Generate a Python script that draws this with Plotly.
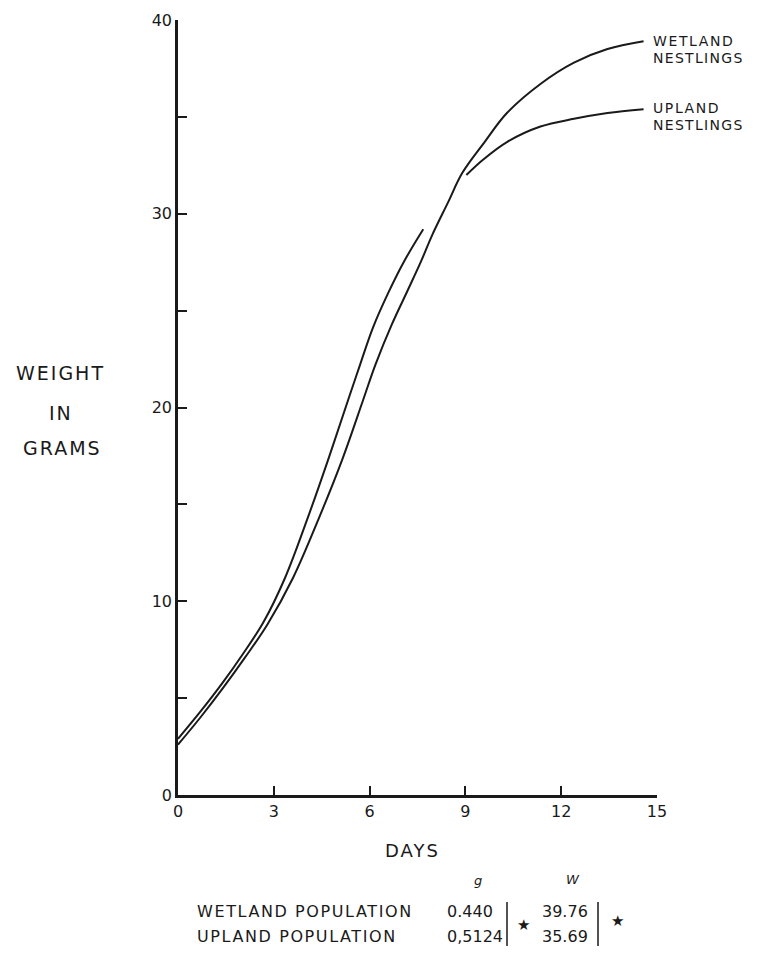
import plotly.graph_objects as go

# ---- data ----
wet_days = [0, 0.7, 1.4, 2.1, 2.8, 3.6, 4.39, 5.14, 5.8, 6.18, 6.7, 7.18, 7.6, 7.96, 8.46, 8.9, 9.6, 10.3, 11.35, 12.4, 13.45, 14.58]
wet_grams = [2.6, 4.0, 5.5, 7.1, 8.8, 11.2, 14.2, 17.3, 20.4, 22.2, 24.3, 26.0, 27.5, 28.9, 30.6, 32.1, 33.7, 35.2, 36.7, 37.8, 38.5, 38.9]

up_days = [0, 0.7, 1.4, 2.0, 2.67, 3.35, 4.04, 4.7, 5.33, 5.7, 6.1, 6.58, 7.1, 7.68, None, 9.03, 9.56, 10.3, 11.35, 12.4, 13.45, 14.58]
up_grams = [2.9, 4.3, 5.8, 7.2, 8.9, 11.2, 14.2, 17.3, 20.4, 22.2, 24.1, 25.9, 27.6, 29.2, None, 32.0, 32.8, 33.7, 34.5, 34.9, 35.2, 35.4]

x_ticks = [0, 3, 6, 9, 12, 15]
x_ticktext = ["0", "3", "6", "9", "12", "15"]
y_ticks = [0, 5, 10, 15, 20, 25, 30, 35, 40]
y_ticktext = ["0", "", "10", "", "20", "", "30", "", "40"]

pop_names = ["WETLAND POPULATION", "UPLAND POPULATION"]
g_values = ["0.440", "0,5124"]
w_values = ["39.76", "35.69"]

FONT = "DejaVu Sans, Liberation Sans, Arial, sans-serif"
INK = "#1a1a1a"


def spaced(txt, ls):
    if ls == 0:
        return txt
    return f'<span style="letter-spacing:{ls}px">{txt}</span>'


fig = go.Figure()
fig.add_trace(go.Scatter(x=wet_days, y=wet_grams, mode="lines", name="Wetland nestlings",
                         line=dict(color=INK, width=2, shape="spline", smoothing=1.0),
                         connectgaps=False, cliponaxis=False))
fig.add_trace(go.Scatter(x=up_days, y=up_grams, mode="lines", name="Upland nestlings",
                         line=dict(color=INK, width=2, shape="spline", smoothing=1.0),
                         connectgaps=False, cliponaxis=False))

fig.update_layout(
    width=760, height=954,
    margin=dict(l=170, r=111, t=12, b=167, autoexpand=False),
    paper_bgcolor="white", plot_bgcolor="white",
    showlegend=False,
    font=dict(family=FONT, color=INK, size=14),
    xaxis=dict(range=[0, 15], tickvals=x_ticks, ticktext=x_ticktext, automargin=False,
               ticks="inside", ticklen=9, tickwidth=2,
               tickcolor=INK, showline=True, linecolor=INK, linewidth=2.5, showgrid=False,
               zeroline=False, tickfont=dict(size=16)),
    yaxis=dict(range=[0, 40], tickvals=y_ticks, ticktext=y_ticktext, automargin=False,
               ticks="inside", ticklen=9, tickwidth=2, tickcolor=INK, showline=True,
               linecolor=INK, linewidth=2.5, showgrid=False, zeroline=False,
               tickfont=dict(size=16)),
)


def px_to_paper_x(px):
    return (px - 178) / 479


def px_to_paper_y(py):
    return (795 - py) / 775


def label(txt, px, py, size, xanchor="center", ls=1, italic=False):
    t = spaced(txt, ls)
    if italic:
        t = f"<i>{t}</i>"
    fig.add_annotation(x=px_to_paper_x(px), y=px_to_paper_y(py), xref="paper", yref="paper",
                       text=t, showarrow=False, xanchor=xanchor, yanchor="middle",
                       font=dict(size=size, family=FONT, color=INK))


# curve labels
label("WETLAND", 651, 41, 14, "left", 1.6)
label("NESTLINGS", 651, 58, 14, "left", 1.3)
label("UPLAND", 651, 108, 14, "left", 1.6)
label("NESTLINGS", 651, 125, 14, "left", 1.3)

# y axis title
label("WEIGHT", 60, 373, 19, "center", 2)
label("IN", 61, 413, 19, "center", 2)
label("GRAMS", 62, 448, 19, "center", 2)

# x axis title
label("DAYS", 412, 850, 18, "center", 2)

# parameter table
label("g", 478, 880, 13, "center", 0, italic=True)
label("W", 573, 879, 13, "center", 0, italic=True)
for i, (name, g, w) in enumerate(zip(pop_names, g_values, w_values)):
    py = 912 + 25 * i
    label(name, 195, py, 16, "left", 1.6)
    label(g, 445, py, 16, "left", 0)
    label(w, 540, py, 16, "left", 0)

# brackets and significance stars
for bx in [507, 598]:
    fig.add_shape(type="line", xref="paper", yref="paper",
                  x0=px_to_paper_x(bx), x1=px_to_paper_x(bx),
                  y0=px_to_paper_y(902), y1=px_to_paper_y(946), line=dict(color=INK, width=1.5))
for sx, sy in [(523, 925), (617, 921)]:
    label("★", sx, sy, 15, "center", 0)

fig.write_html("out.html")
